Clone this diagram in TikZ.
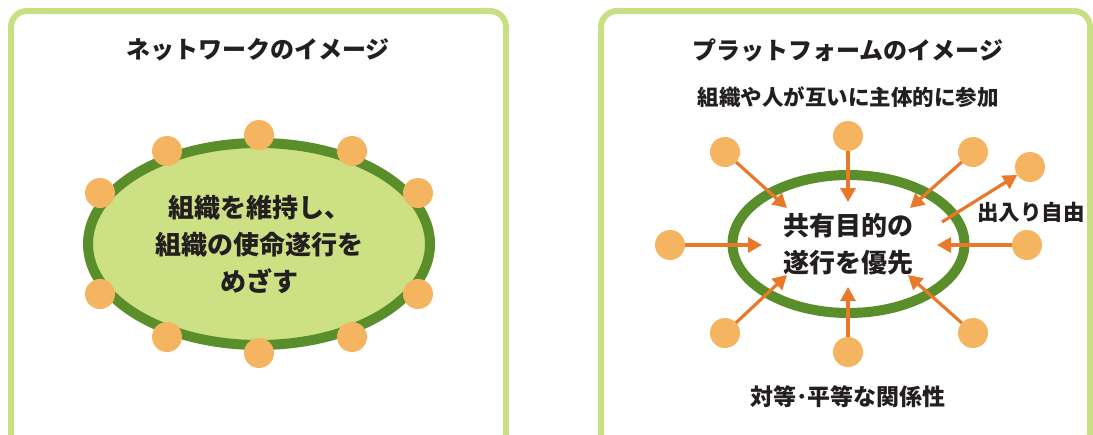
\documentclass[tikz,border=0pt]{standalone}
\usepackage{fontspec}
\newfontfamily\jp{Noto Sans CJK JP}
\usetikzlibrary{arrows.meta,shapes.geometric}
\definecolor{panelgreen}{HTML}{C9DF84}
\definecolor{ringgreen}{HTML}{5A8E2A}
\definecolor{fillgreen}{HTML}{CDE083}
\definecolor{dotorange}{HTML}{F4B460}
\definecolor{floworange}{HTML}{E8792B}
\definecolor{ink}{HTML}{231F20}
\tikzset{
  panel/.style={draw=panelgreen, line width=6pt, rounded corners=16pt},
  member/.style={circle, fill=dotorange, minimum size=30pt, inner sep=0pt, outer sep=0pt},
  ring/.style={ellipse, draw=ringgreen, line width=10pt, align=center, text=ink,
    font=\jp\bfseries\fontsize{26}{37}\selectfont},
  heading/.style={text=ink, font=\jp\bfseries\fontsize{24}{28}\selectfont},
  caption/.style={text=ink, font=\jp\bfseries\fontsize{21.5}{26}\selectfont},
  flow/.style={draw=floworange, line width=3.2pt, -{Triangle[length=14pt,width=15pt]}}
}
\begin{document}
\begin{tikzpicture}[x=1pt,y=-1pt]
  \useasboundingbox (0,0) rectangle (1093,434);
  % frames
  \draw[panel] (11,11) rectangle (506,450);
  \draw[panel] (601,11) rectangle (1090,450);

  % network side
  \node[heading] (nt) at (258,50) {ネットワークのイメージ};
  \node[ring, fill=fillgreen, minimum width=342pt, minimum height=202pt] (nc) at (259,244)
    {組織を維持し、\\組織の使命遂行を\\めざす};
  \path
    (259,135) node[member] (n0) {}
    (352,151) node[member] (n1) {}
    (418,193) node[member] (n2) {}
    (418,294) node[member] (n3) {}
    (352,337) node[member] (n4) {}
    (259,353) node[member] (n5) {}
    (167,337) node[member] (n6) {}
    (100,294) node[member] (n7) {}
    (100,193) node[member] (n8) {}
    (167,151) node[member] (n9) {};

  % platform side
  \node[heading] (pt) at (848,50) {プラットフォームのイメージ};
  \node[caption] (pa) at (848,97) {組織や人が互いに主体的に参加};
  \node[ring, minimum width=232pt, minimum height=138pt] (pc) at (848.5,244)
    {共有目的の\\遂行を優先};
  \node[caption] (pf) at (1031,212) {出入り自由};
  \node[caption, font=\jp\bfseries\fontsize{23}{26}\selectfont] (pe) at (848,397) {対等･平等な関係性};
  \path
    (848,136) node[member] (p0) {}
    (973,152) node[member] (p1) {}
    (1030,167) node[member] (p2) {}
    (1027,245) node[member] (p3) {}
    (973,333) node[member] (p4) {}
    (848,352) node[member] (p5) {}
    (725,333) node[member] (p6) {}
    (670,245) node[member] (p7) {}
    (725,152) node[member] (p8) {};
  \coordinate (t0) at (848,202);
  \coordinate (t1) at (910,208);
  \coordinate (t3) at (937,245);
  \coordinate (t4) at (908,275);
  \coordinate (t5) at (848,287);
  \coordinate (t6) at (787,275);
  \coordinate (t7) at (762,245);
  \coordinate (t8) at (787,208);
  \coordinate (s2) at (942,222);
  \begin{scope}[flow]
    \draw (p0) to (t0);
    \draw (p1) to (t1);
    \draw (s2) to (p2);
    \draw (p3) to (t3);
    \draw (p4) to (t4);
    \draw (p5) to (t5);
    \draw (p6) to (t6);
    \draw (p7) to (t7);
    \draw (p8) to (t8);
  \end{scope}
\end{tikzpicture}
\end{document}
